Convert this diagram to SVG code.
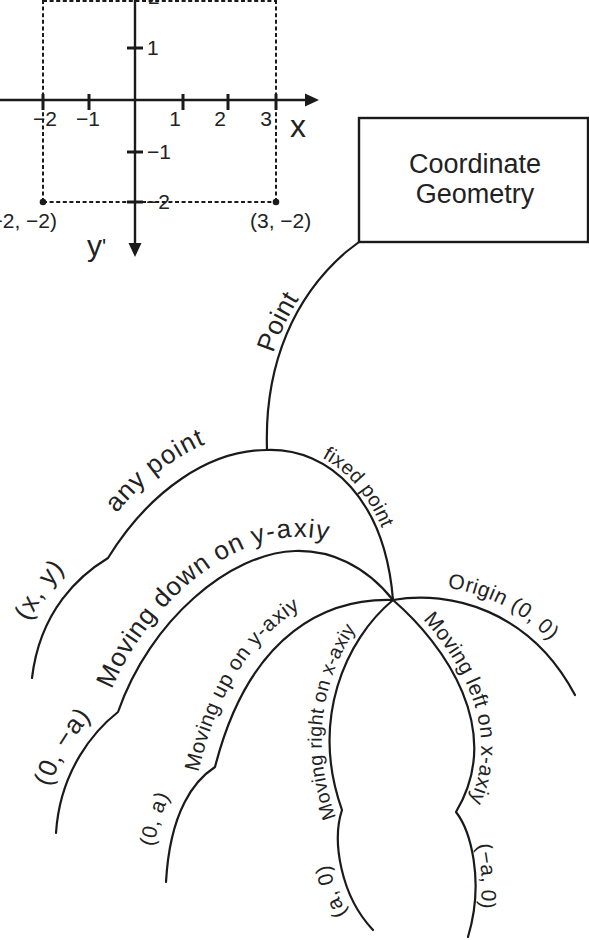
<svg xmlns="http://www.w3.org/2000/svg" width="589" height="940" viewBox="0 0 589 940">
<style>
.ln{fill:none;stroke:#1a1a1a;stroke-width:2.2;stroke-linecap:round;stroke-linejoin:round}
.ax{stroke:#1a1a1a;stroke-width:2.4;fill:none}
.tk{stroke:#1a1a1a;stroke-width:3}
.dash{stroke:#1a1a1a;stroke-width:2;stroke-dasharray:4 2.6;fill:none}
.t{font-family:"Liberation Sans",Arial,sans-serif;fill:#222}
.big{font-size:26px}
.sm{font-size:21px}
.lbl{font-size:21px}
</style>
<defs>
<path id="lp-point" d="M267,450 C262,360 300,288 359,242"/>
<path id="lp-any" d="M108,558 C150,490 210,450 267,450"/>
<path id="lp-xy" d="M32,678 C40,610 80,575 108,558"/>
<path id="lp-down" d="M118,712 C150,620 230,553 295,551 C330,550 365,565 393,600"/>
<path id="lp-0ma" d="M56,833 C60,770 95,730 118,712"/>
<path id="lp-up" d="M207.6,796 L215,767 C250,630 330,598 393,600"/>
<path id="lp-0a" d="M166,882 C170,810 195,780 215,767"/>
<path id="lp-right" d="M342,810 C310,720 345,640 393,600"/>
<path id="lp-a0" d="M373,930 C340,895 332,840 342,810"/>
<path id="lp-left" d="M393,600 C445,645 505,730 456,812"/>
<path id="lp-ma0" d="M456,812 C470,830 485,880 468,937"/>
<path id="lp-origin" d="M393,600 C450,590 530,610 575,695"/>
<path id="lp-fixed" d="M267,450 C330,448 385,500 393,600"/>
</defs>

<g id="axes">
<line class="dash" x1="43" y1="1" x2="276" y2="1"/>
<line class="dash" x1="43" y1="0" x2="43" y2="202"/>
<line class="dash" x1="276" y1="0" x2="276" y2="202"/>
<line class="dash" x1="43" y1="202" x2="276" y2="202"/>
<line class="ax" x1="0" y1="100" x2="308" y2="100"/>
<polygon points="305,93.5 319,100 305,106.5" fill="#1a1a1a"/>
<line class="ax" x1="135" y1="0" x2="135" y2="245"/>
<polygon points="128.5,243 135,257 141.5,243" fill="#1a1a1a"/>
<g class="tk">
<line x1="43" y1="94" x2="43" y2="110"/>
<line x1="89" y1="94" x2="89" y2="110"/>
<line x1="183" y1="94" x2="183" y2="110"/>
<line x1="228" y1="94" x2="228" y2="110"/>
<line x1="276" y1="94" x2="276" y2="110"/>
<line x1="127" y1="48" x2="143" y2="48"/>
<line x1="127" y1="152" x2="143" y2="152"/>
<line x1="127" y1="202" x2="143" y2="202"/>
</g>
<circle cx="43" cy="202" r="3.3" fill="#1a1a1a"/>
<circle cx="276" cy="202" r="3.3" fill="#1a1a1a"/>
<g class="t lbl">
<text x="148" y="4">2</text>
<text x="147" y="55">1</text>
<text x="147" y="159">−1</text>
<text x="146" y="209">−2</text>
<text x="45" y="126" text-anchor="middle">−2</text>
<text x="88" y="126" text-anchor="middle">−1</text>
<text x="181" y="126" text-anchor="end">1</text>
<text x="226" y="126" text-anchor="end">2</text>
<text x="272" y="126" text-anchor="end">3</text>
<text x="57" y="228" text-anchor="end">(−2, −2)</text>
<text x="250" y="228">(3, −2)</text>
</g>
<text class="t" x="290" y="137" font-size="32">x</text>
<text class="t" x="87" y="256" font-size="30">y<tspan font-size="22" dy="-2">'</tspan></text>
</g>

<g id="node-coordinate-geometry">
<rect x="359" y="118" width="229" height="124" fill="#fff" stroke="#1a1a1a" stroke-width="2.4"/>
<text class="t" x="475" y="173" font-size="27" text-anchor="middle">Coordinate</text>
<text class="t" x="475" y="203" font-size="27" text-anchor="middle">Geometry</text>
</g>

<g id="connectors">
<path class="ln" d="M359,242 L346,252 C296,295 264,362 267,450"/>
<path class="ln" d="M267,450 C210,450 150,490 108,558 C80,575 40,610 32,678"/>
<path class="ln" d="M267,450 C330,448 385,500 393,600"/>
<path class="ln" d="M393,600 C365,565 330,550 295,551 C230,553 150,620 118,712 C95,730 60,770 56,833"/>
<path class="ln" d="M393,600 C330,598 250,630 215,767 C195,780 170,810 166,882"/>
<path class="ln" d="M393,600 C345,640 310,720 342,810 C332,840 340,895 373,930"/>
<path class="ln" d="M393,600 C445,645 505,730 456,812 C470,830 485,880 468,937"/>
<path class="ln" d="M393,600 C450,590 530,610 575,695"/>
</g>

<g id="labels">
<text class="t big"><textPath href="#lp-point" startOffset="53%" text-anchor="middle"><tspan dy="-6">Point</tspan></textPath></text>
<text class="t big"><textPath href="#lp-any" startOffset="46%" text-anchor="middle"><tspan dy="-19">any point</tspan></textPath></text>
<text class="t big"><textPath href="#lp-xy" startOffset="54%" text-anchor="middle"><tspan dy="-17">(x, y)</tspan></textPath></text>
<text class="t big"><textPath href="#lp-down" startOffset="41%" text-anchor="middle"><tspan dy="-14">Moving down on y-axiy</tspan></textPath></text>
<text class="t big"><textPath href="#lp-0ma" startOffset="57%" text-anchor="middle"><tspan dy="-14">(0, −a)</tspan></textPath></text>
<text class="t sm"><textPath href="#lp-up" startOffset="114" text-anchor="middle"><tspan dy="-15">Moving up on y-axiy</tspan></textPath></text>
<text class="t sm"><textPath href="#lp-0a" startOffset="44%" text-anchor="middle"><tspan dy="-16">(0, a)</tspan></textPath></text>
<text class="t" font-size="19.5"><textPath href="#lp-right" startOffset="39%" text-anchor="middle"><tspan dy="-8">Moving right on x-axiy</tspan></textPath></text>
<text class="t sm"><textPath href="#lp-a0" startOffset="40%" text-anchor="middle"><tspan dy="-11">(a, 0)</tspan></textPath></text>
<text class="t sm"><textPath href="#lp-left" startOffset="54%" text-anchor="middle"><tspan dy="-7">Moving left on x-axiy</tspan></textPath></text>
<text class="t sm"><textPath href="#lp-ma0" startOffset="53%" text-anchor="middle"><tspan dy="-6">(−a, 0)</tspan></textPath></text>
<text class="t sm"><textPath href="#lp-origin" startOffset="49%" text-anchor="middle"><tspan dy="-12">Origin (0, 0)</tspan></textPath></text>
<text class="t" font-size="20"><textPath href="#lp-fixed" startOffset="46%" text-anchor="middle"><tspan dy="-5">fixed point</tspan></textPath></text>
</g>
</svg>
